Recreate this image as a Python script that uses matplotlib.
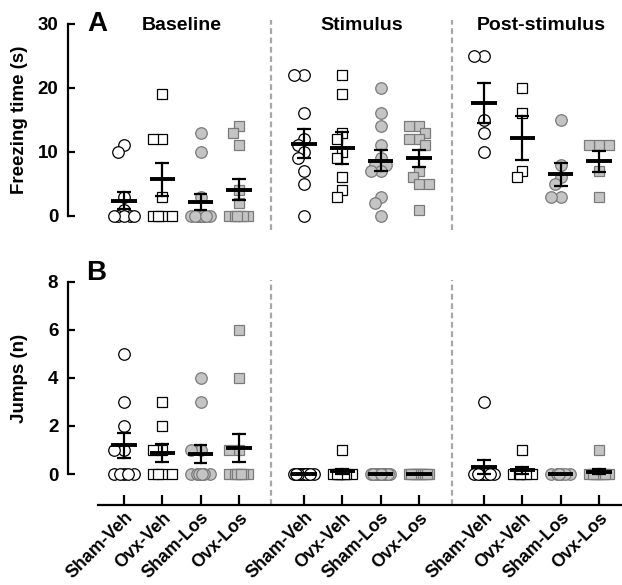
import numpy as np
import matplotlib
matplotlib.use("Agg")
import matplotlib.pyplot as plt

plt.rcParams['font.family'] = ['Liberation Sans', 'DejaVu Sans']
plt.rcParams['font.weight'] = 'bold'

# ---------------- data ----------------
groups = ["Sham-Veh", "Ovx-Veh", "Sham-Los", "Ovx-Los"]
phases = ["Baseline", "Stimulus", "Post-stimulus"]

# Freezing time (s): one list per group, per phase
freeze_baseline = [[11, 10, 3, 1, 0, 0, 0, 0, 0],
                   [19, 12, 12, 3, 0, 0, 0, 0],
                   [13, 10, 3, 0, 0, 0, 0, 0, 0, 0, 0, 0],
                   [14, 13, 11, 4, 2, 0, 0, 0, 0, 0, 0]]
freeze_stimulus = [[22, 22, 16, 12, 11, 10, 9, 7, 5, 0],
                   [22, 19, 13, 12, 10, 9, 6, 4, 3],
                   [20, 16, 14, 11, 9, 8, 8, 7, 7, 3, 2, 0],
                   [14, 14, 13, 12, 12, 11, 7, 6, 5, 5, 1]]
freeze_post = [[25, 25, 15, 13, 10],
               [20, 16, 7, 6],
               [15, 8, 6, 5, 3, 3],
               [11, 11, 11, 7, 3]]
freeze_mean = [[2.4, 5.7, 2.1, 4.1], [11.3, 10.6, 8.6, 9.0], [17.6, 12.2, 6.5, 8.5]]
freeze_sem = [[1.3, 2.6, 1.25, 1.65], [2.2, 2.5, 1.65, 1.35], [3.1, 3.4, 1.8, 1.6]]

# Jumps (n)
jumps_baseline = [[5, 3, 2, 1, 1, 0, 0, 0, 0, 0],
                  [3, 2, 1, 1, 0, 0, 0, 0],
                  [4, 3, 1, 1, 0, 0, 0, 0, 0, 0, 0],
                  [6, 4, 1, 1, 0, 0, 0, 0, 0, 0, 0]]
jumps_stimulus = [[0, 0, 0, 0, 0, 0, 0, 0, 0, 0],
                  [1, 0, 0, 0, 0, 0, 0, 0, 0],
                  [0, 0, 0, 0, 0, 0, 0, 0, 0, 0, 0, 0],
                  [0, 0, 0, 0, 0, 0, 0, 0, 0, 0, 0]]
jumps_post = [[3, 0, 0, 0, 0, 0, 0, 0, 0, 0],
              [1, 0, 0, 0, 0, 0, 0],
              [0, 0, 0, 0, 0, 0],
              [1, 0, 0, 0, 0, 0, 0, 0, 0, 0]]
jumps_mean = [[1.2, 0.86, 0.82, 1.1], [0.0, 0.11, 0.0, 0.0], [0.3, 0.15, 0.0, 0.1]]
jumps_sem = [[0.52, 0.37, 0.37, 0.58], [0.0, 0.11, 0.0, 0.0], [0.3, 0.15, 0.0, 0.1]]

freeze_ticks = [0, 10, 20, 30]
jumps_ticks = [0, 2, 4, 6, 8]

# ---------------- styling ----------------
markers = ['o', 's', 'o', 's']
faces = ['white', 'white', '#c4c4c4', '#c4c4c4']
edges = ['black', 'black', '#7a7a7a', '#7a7a7a']
msizes = [8.3, 7.8, 8.3, 7.8]
phase_gap = 4.7
positions = [[p * phase_gap + g for g in range(4)] for p in range(3)]

W, H = 622, 585
fig = plt.figure(figsize=(W / 100, H / 100), dpi=100)


def fig_rect(x0, y0, x1, y1):
    return [x0 / W, 1 - y1 / H, (x1 - x0) / W, (y1 - y0) / H]


axA = fig.add_axes(fig_rect(68, 20, 622, 230))
axB = fig.add_axes(fig_rect(68, 280, 622, 505))

XL = (-1.46, 13.0)


def swarm(vals, px_x, px_y, dia=11.0):
    vals = np.asarray(vals, float)
    order = np.argsort(-vals, kind='stable')
    cands = np.round(np.arange(-0.25, 0.2501, 0.05), 3)
    cands = sorted(cands, key=lambda c: (abs(c), c))
    placed = []
    offs = np.zeros(len(vals))
    for i in order:
        best, bestd = 0.0, -1
        ok = None
        for c in cands:
            dmin = 1e9
            for (ox, oy) in placed:
                d = np.hypot((c - ox) * px_x, (vals[i] - oy) * px_y)
                dmin = min(dmin, d)
            if dmin >= 0.7 * dia:
                ok = c
                break
            if dmin > bestd:
                bestd, best = dmin, c
        c = ok if ok is not None else best
        offs[i] = c
        placed.append((c, vals[i]))
    return offs


def draw(ax, data_by_phase, means, sems, py):
    pxx = 554 / (XL[1] - XL[0])
    for p in range(3):
        for g in range(4):
            vals = data_by_phase[p][g]
            x0 = positions[p][g]
            offs = swarm(vals, pxx, py)
            ax.plot(x0 + offs, vals, linestyle='none', marker=markers[g],
                    ms=msizes[g], mfc=faces[g], mec=edges[g], mew=0.9,
                    zorder=3, clip_on=False)
            m, s = means[p][g], sems[p][g]
            ax.plot([x0 - 0.33, x0 + 0.33], [m, m], color='black', lw=2.8,
                    zorder=5, solid_capstyle='butt')
            if s > 0:
                ax.plot([x0, x0], [m - s, m + s], color='black', lw=1.6, zorder=5)
                for yy in (m - s, m + s):
                    ax.plot([x0 - 0.18, x0 + 0.18], [yy, yy], color='black', lw=1.6,
                            zorder=5, solid_capstyle='butt')
    for xs in [(positions[0][3] + positions[1][0]) / 2,
               (positions[1][3] + positions[2][0]) / 2]:
        ax.axvline(xs, color='#a8a8a8', lw=1.6, ls=(0, (2.6, 1.6)), zorder=1)
    ax.set_xlim(*XL)
    for sp in ['top', 'right']:
        ax.spines[sp].set_visible(False)
    ax.spines['left'].set_linewidth(1.6)
    ax.tick_params(axis='y', direction='in', length=5, width=1.6, pad=7,
                   labelsize=13.5)


draw(axA, [freeze_baseline, freeze_stimulus, freeze_post], freeze_mean, freeze_sem, 6.4)
axA.set_ylim(-2.2, 30.6)
axA.spines['left'].set_bounds(0, 30)
axA.set_yticks(freeze_ticks)
axA.set_yticklabels([str(t) for t in freeze_ticks], fontweight='bold')
axA.spines['bottom'].set_visible(False)
axA.set_xticks([])
axA.set_ylabel("Freezing time (s)", fontsize=13.5, fontweight='bold')
axA.yaxis.set_label_coords(-0.072, 0.524)

draw(axB, [jumps_baseline, jumps_stimulus, jumps_post], jumps_mean, jumps_sem, 24.0)
axB.set_ylim(-1.29, 8.08)
axB.spines['left'].set_bounds(0, 8)
axB.set_yticks(jumps_ticks)
axB.set_yticklabels([str(t) for t in jumps_ticks], fontweight='bold')
axB.spines['bottom'].set_bounds(-0.68, XL[1])
axB.spines['bottom'].set_linewidth(1.6)
allpos = [x for row in positions for x in row]
axB.set_xticks(allpos)
axB.set_xticklabels(groups * 3, rotation=45, ha='right', rotation_mode='anchor',
                    fontsize=12.8, fontweight='bold')
axB.tick_params(axis='x', direction='in', length=7, width=1.6, pad=3)
axB.set_ylabel("Jumps (n)", fontsize=13.5, fontweight='bold')
axB.yaxis.set_label_coords(-0.072, 0.564)

# panel letters and phase titles
fig.text(97 / W, 1 - 24 / H, "A", fontsize=20, fontweight='bold', ha='center', va='center')
fig.text(96 / W, 1 - 273 / H, "B", fontsize=20, fontweight='bold', ha='center', va='center')
for p, name in enumerate(phases):
    xc = np.mean(positions[p])
    xf = (68 + (xc - XL[0]) * 554 / (XL[1] - XL[0])) / W
    fig.text(xf, 1 - 26 / H, name, fontsize=14, fontweight='bold', ha='center', va='center')

fig.savefig("out.png", dpi=100)
